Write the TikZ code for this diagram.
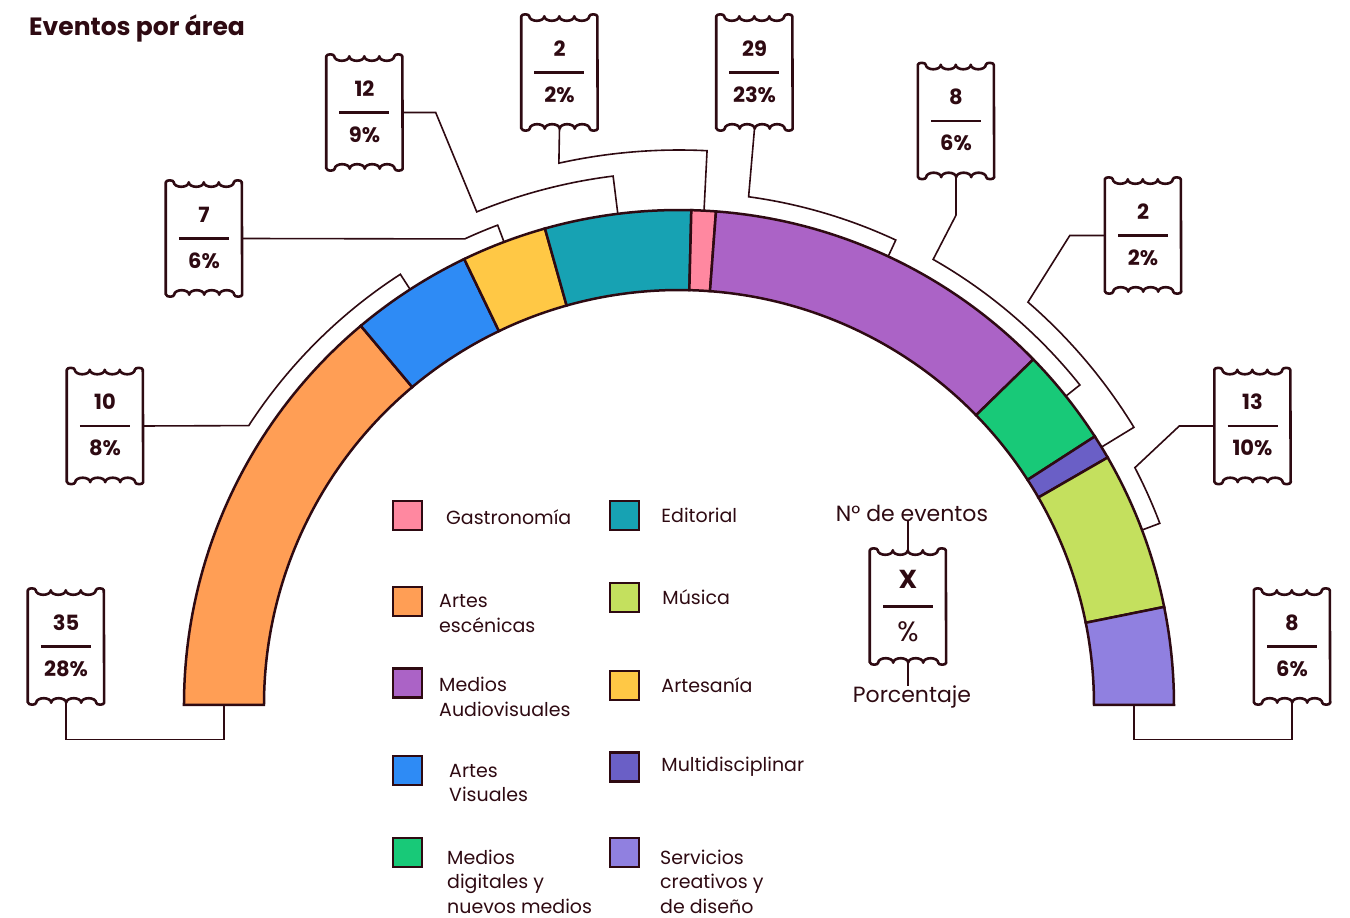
\documentclass[tikz,border=0pt]{standalone}
\usepackage{fontspec}
\setmainfont{Poppins}
\usetikzlibrary{positioning}

\definecolor{dark}{RGB}{46,10,18}
\definecolor{cEsc}{RGB}{255,158,85}
\definecolor{cVis}{RGB}{46,139,245}
\definecolor{cArt}{RGB}{255,200,69}
\definecolor{cEdi}{RGB}{23,162,179}
\definecolor{cGas}{RGB}{255,136,160}
\definecolor{cAud}{RGB}{171,99,198}
\definecolor{cDig}{RGB}{24,201,120}
\definecolor{cMul}{RGB}{106,95,198}
\definecolor{cMus}{RGB}{196,224,94}
\definecolor{cSer}{RGB}{144,128,224}

\tikzset{
  seg/.style={draw=dark, line width=2.5pt},
  leader/.style={draw=dark, line width=1.6pt},
  ticket/.style={minimum width=76pt, minimum height=112pt, inner sep=0pt},
  tkborder/.style={draw=dark, line width=2.6pt, line join=round},
  tkbar/.style={draw=dark, line width=2.8pt},
  tknum/.style={text=dark, inner sep=0pt, font=\fontsize{21}{24}\selectfont\bfseries},
  legbox/.style={draw=dark, line width=2.5pt, minimum size=29pt, inner sep=0pt},
  leglbl/.style={text=dark, align=left, anchor=west, inner sep=0pt, font=\fontsize{19}{24.5}\selectfont},
  keylbl/.style={text=dark, inner sep=0pt, font=\fontsize{22}{26}\selectfont},
  title/.style={text=dark, inner sep=0pt, font=\fontsize{25}{28}\selectfont\bfseries}
}

\newcommand{\arcseg}[3]{%
  \filldraw[seg, fill=#3] (#1:495) arc[start angle=#1, end angle=#2, radius=495pt]
    -- (#2:415) arc[start angle=#2, end angle=#1, radius=415pt] -- cycle;}

\newcommand{\ticket}[4]{%
  \node[ticket] (#1) at (#2) {};
  \draw[tkborder] (#1.south west) -- (#1.north west)
    arc[start angle=180, end angle=0, x radius=4pt, y radius=2pt]
    \foreach \k in {1,...,4} {arc[start angle=180, end angle=360, x radius=7.5pt, y radius=4.5pt]}
    arc[start angle=180, end angle=0, x radius=4pt, y radius=2pt]
    -- (#1.south east)
    arc[start angle=0, end angle=-180, x radius=4pt, y radius=2pt]
    \foreach \k in {1,...,4} {arc[start angle=0, end angle=180, x radius=7.5pt, y radius=4.5pt]}
    arc[start angle=0, end angle=-180, x radius=4pt, y radius=2pt] -- cycle;
  \draw[tkbar] ([xshift=-25]#1.center) -- ([xshift=25]#1.center);
  \node[tknum] (#1-n) at ([yshift=24]#1.center) {#3};
  \node[tknum] (#1-p) at ([yshift=-22]#1.center) {#4};}

\begin{document}
\begin{tikzpicture}[x=1pt,y=1pt]
\useasboundingbox (-679,-213) rectangle (671,705);

\node[title, anchor=west] (title) at (-650,677) {Eventos por área};

\arcseg{180}{130}{cEsc}
\arcseg{130}{115.714}{cVis}
\arcseg{115.714}{105.714}{cArt}
\arcseg{105.714}{88.571}{cEdi}
\arcseg{88.571}{85.714}{cGas}
\arcseg{85.714}{44.286}{cAud}
\arcseg{44.286}{32.857}{cDig}
\arcseg{32.857}{30}{cMul}
\arcseg{30}{11.429}{cMus}
\arcseg{11.429}{0}{cSer}

\coordinate (esc-b) at (-455,0);
\coordinate (ser-b) at (455,0);
\coordinate (vis-o) at (122.9:495);
\coordinate (art-o) at (110.7:495);
\coordinate (edi-o) at (97.1:495);
\coordinate (gas-o) at (87.1:495);
\coordinate (aud-o) at (65:495);
\coordinate (dig-o) at (38.6:495);
\coordinate (mul-o) at (31.4:495);
\coordinate (mus-o) at (20.7:495);

\ticket{t-esc}{-613,58.5}{35}{28\%}
\ticket{t-ser}{613,58.5}{8}{6\%}
\ticket{t-vis}{-574,279}{10}{8\%}
\ticket{t-art}{-475,466.5}{7}{6\%}
\ticket{t-edi}{-314.5,592.5}{12}{9\%}
\ticket{t-gas}{-119.5,632.5}{2}{2\%}
\ticket{t-aud}{75.5,632.5}{29}{23\%}
\ticket{t-dig}{277,584}{8}{6\%}
\ticket{t-mul}{464,469.5}{2}{2\%}
\ticket{t-mus}{573.5,279}{13}{10\%}

\draw[leader] (t-esc.south) -- ++(0,-37) -| (esc-b);
\draw[leader] (t-ser.south) -- ++(0,-37) -| (ser-b);
\draw[leader] (t-vis.east) -- (147:513) arc[start angle=147, end angle=122.9, radius=513pt] -- (vis-o);
\draw[leader] (t-art.east) -- (114.7:513) arc[start angle=114.7, end angle=110.7, radius=513pt] -- (art-o);
\draw[leader] (t-edi.east) -- ++(33,0) -- (112.3:533) arc[start angle=112.3, end angle=97.1, radius=533pt] -- (edi-o);
\draw[leader] (t-gas.south) -- (102.5:555) arc[start angle=102.5, end angle=87.1, radius=555pt] -- (gas-o);
\draw[leader] (t-aud.south) -- (82.2:513) arc[start angle=82.2, end angle=65, radius=513pt] -- (aud-o);
\draw[leader] (t-dig.south) -- ++(0,-38) -- (60.3:513) arc[start angle=60.3, end angle=38.6, radius=513pt] -- (dig-o);
\draw[leader] (t-mul.west) -- ++(-35,0) -- (49.1:533) arc[start angle=49.1, end angle=31.4, radius=533pt] -- (mul-o);
\draw[leader] (t-mus.west) -- ++(-35,0) -- (27.5:514) arc[start angle=27.5, end angle=20.7, radius=514pt] -- (mus-o);

\node[legbox, fill=cGas] (leg-gas) at (-271.5,189.5) {};
\node[legbox, fill=cEsc] (leg-esc) at (-271.5,103.5) {};
\node[legbox, fill=cAud] (leg-aud) at (-271.5,22) {};
\node[legbox, fill=cVis] (leg-vis) at (-271.5,-65.5) {};
\node[legbox, fill=cDig] (leg-dig) at (-271.5,-147.5) {};
\node[legbox, fill=cEdi] (leg-edi) at (-54.5,189.5) {};
\node[legbox, fill=cMus] (leg-mus) at (-54.5,107.5) {};
\node[legbox, fill=cArt] (leg-art) at (-54.5,19.5) {};
\node[legbox, fill=cMul] (leg-mul) at (-54.5,-62) {};
\node[legbox, fill=cSer] (leg-ser) at (-54.5,-147.5) {};

\node[leglbl] (lbl-gas) at (-233,188) {Gastronomía};
\node[leglbl] (lbl-esc) at (-240,91.5) {Artes\\escénicas};
\node[leglbl] (lbl-aud) at (-240,8) {Medios\\Audiovisuales};
\node[leglbl] (lbl-vis) at (-230,-78) {Artes\\Visuales};
\node[leglbl] (lbl-dig) at (-232,-176.5) {Medios\\digitales y\\nuevos medios};
\node[leglbl, right=21pt of leg-edi] (lbl-edi) {Editorial};
\node[leglbl, right=22pt of leg-mus] (lbl-mus) {Música};
\node[leglbl, right=21pt of leg-art] (lbl-art) {Artesanía};
\node[leglbl, right=21pt of leg-mul] (lbl-mul) {Multidisciplinar};
\node[leglbl] (lbl-ser) at (-19,-176.5) {Servicios\\creativos y\\de diseño};

\node[ticket] (t-key) at (229,98.5) {};
\draw[tkborder] (t-key.south west) -- (t-key.north west)
  arc[start angle=180, end angle=0, x radius=4pt, y radius=2pt]
  \foreach \k in {1,...,4} {arc[start angle=180, end angle=360, x radius=7.5pt, y radius=4.5pt]}
  arc[start angle=180, end angle=0, x radius=4pt, y radius=2pt]
  -- (t-key.south east)
  arc[start angle=0, end angle=-180, x radius=4pt, y radius=2pt]
  \foreach \k in {1,...,4} {arc[start angle=0, end angle=180, x radius=7.5pt, y radius=4.5pt]}
  arc[start angle=0, end angle=-180, x radius=4pt, y radius=2pt] -- cycle;
\draw[tkbar] ([xshift=-25]t-key.center) -- ([xshift=25]t-key.center);
\node[tknum, font=\fontsize{26}{28}\selectfont\bfseries] (t-key-n) at ([yshift=27]t-key.center) {X};
\node[tknum, font=\fontsize{28}{30}\selectfont] (t-key-p) at ([yshift=-25]t-key.center) {\%};
\node[keylbl] (key-evt) at (233,192) {N° de eventos};
\node[keylbl] (key-pct) at (233,8) {Porcentaje};
\draw[leader] (t-key.north) -- (t-key.north |- key-evt.south);
\draw[leader] (t-key.south) -- (t-key.south |- key-pct.north);
\end{tikzpicture}
\end{document}
